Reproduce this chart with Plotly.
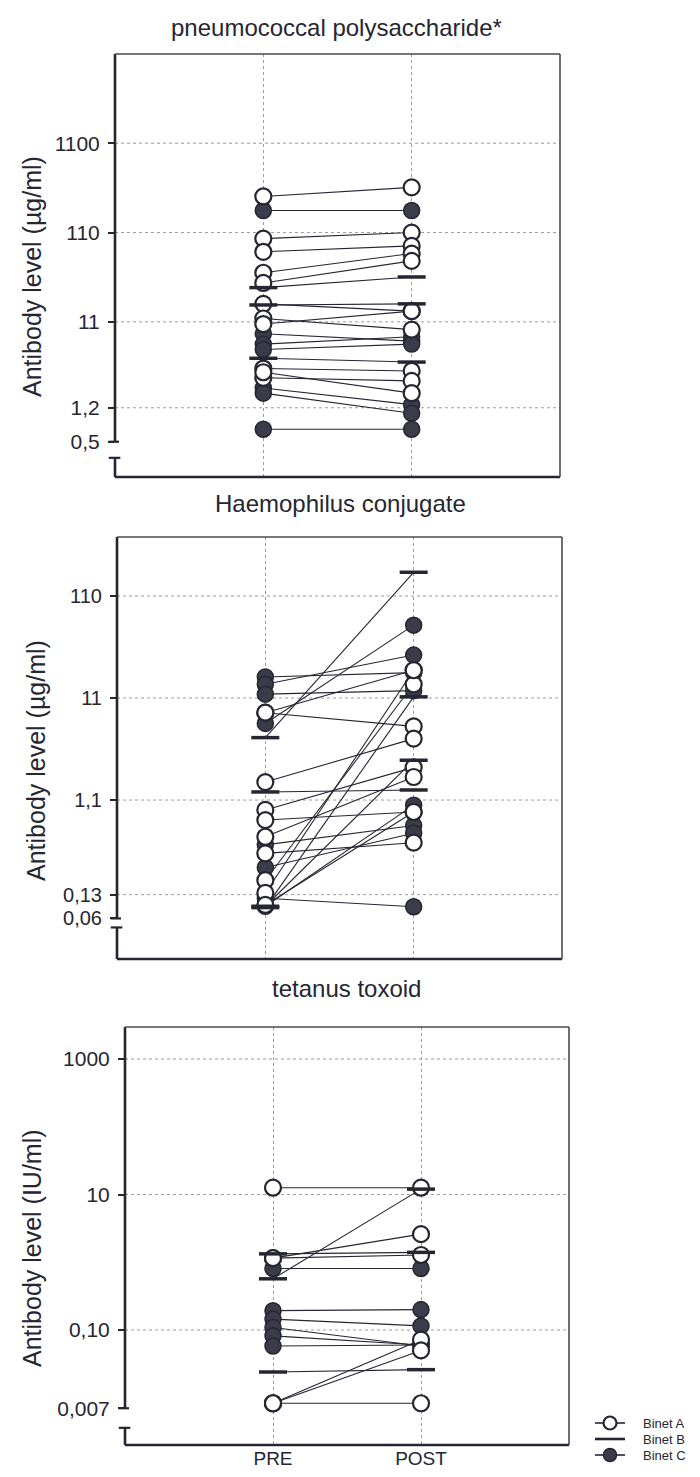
import numpy as np
import plotly.graph_objects as go

# ---------------- data ----------------
# Panel 1: pneumococcal polysaccharide (ug/ml)
pn_group = ["A", "C", "A", "A", "A", "A", "B", "B", "A", "A", "A", "C", "C", "C", "B", "A", "A", "A", "C", "C", "C"]
pn_pre = [279, 194, 94, 67, 39, 30, 26.6, 17, 17.5, 12, 10.4, 8.1, 6.2, 5.4, 4.3, 3.3, 2.6, 3.0, 2.0, 1.75, 0.69]
pn_post = [353, 194, 110, 78, 64, 53, 35, 17.5, 14.5, 9.0, 14.5, 6.7, 7.5, 6.2, 3.9, 3.1, 2.4, 1.75, 1.3, 1.04, 0.69]
pn_ticks = [0.5, 1.2, 11, 110, 1100]
pn_ticktext = ["0,5", "1,2", "11", "110", "1100"]

# Panel 2: Haemophilus conjugate (ug/ml)
hib_group = ["C", "C", "C", "A", "C", "B", "A", "A", "B", "A", "A", "A", "C", "A", "C", "A", "A", "B", "A", "C", "B", "C"]
hib_pre = [17.7, 15, 12, 7.9, 6.2, 4.5, 7.9, 1.65, 1.32, 0.88, 0.70, 0.48, 0.40, 0.33, 0.24, 0.18, 0.135, 0.097, 0.103, 0.12, 0.10, 0.10]
hib_post = [19.5, 29, 13, 20.6, 57, 188, 5.8, 4.4, 1.38, 2.3, 0.84, 1.85, 0.62, 0.42, 0.52, 15, 20.6, 11.3, 0.84, 0.099, 2.7, 0.98]
hib_ticks = [0.076, 0.13, 1.1, 11, 110]
hib_ticktext = ["0,06", "0,13", "1,1", "11", "110"]

# Panel 3: tetanus toxoid (IU/ml)
tt_group = ["A", "B", "A", "A", "B", "C", "C", "C", "C", "C", "C", "B", "A", "A", "A"]
tt_pre = [12.6, 0.57, 1.15, 1.15, 1.33, 0.81, 0.193, 0.145, 0.109, 0.082, 0.058, 0.024, 0.0083, 0.0083, 0.0083]
tt_post = [12.6, 12.0, 2.6, 1.28, 1.4, 0.81, 0.20, 0.115, 0.058, 0.06, 0.06, 0.026, 0.0083, 0.072, 0.05]
tt_ticks = [0.007, 0.10, 10, 1000]
tt_ticktext = ["0,007", "0,10", "10", "1000"]

x_labels = ["PRE", "POST"]
group_names = {"A": "Binet A", "B": "Binet B", "C": "Binet C"}

# ---------------- page geometry ----------------
# the page body has an 8px default margin, so the figure is made 8px smaller
# and window-pixel positions are converted to paper fractions
OFF = 8
W, H = 700 - OFF, 1477 - OFF


def px(X):
    return (X - OFF) / W


def py(Y):
    return 1 - (Y - OFF) / H


INK = "#262632"
FILL_C = "#3b3b4a"
GRID = "#9c9c9c"
FONT = "Liberation Sans, Arial, sans-serif"

panels = [
    dict(group=pn_group, pre=pn_pre, post=pn_post, ticks=pn_ticks, ticktext=pn_ticktext,
         grid=[1.2, 11, 110, 1100], brk=0.33, rng=[-0.696, 4.041], tfs=21,
         xdom=[px(115), px(560)], ydom=[py(477), py(54)],
         title="pneumococcal polysaccharide*", tx=336, ty=27,
         ytitle="Antibody level (\u00b5g/ml)", ytx=32, yty=277),
    dict(group=hib_group, pre=hib_pre, post=hib_post, ticks=hib_ticks, ticktext=hib_ticktext,
         grid=[0.13, 1.1, 11, 110], brk=0.062, rng=[-1.517, 2.620], tfs=20,
         xdom=[px(117), px(562)], ydom=[py(959), py(537)],
         title="Haemophilus conjugate", tx=340, ty=503,
         ytitle="Antibody level (\u00b5g/ml)", ytx=36, yty=761),
    dict(group=tt_group, pre=tt_pre, post=tt_post, ticks=tt_ticks, ticktext=tt_ticktext,
         grid=[0.10, 10, 1000], brk=0.0036, rng=[-2.697, 3.472], tfs=21,
         xdom=[px(125), px(569)], ydom=[py(1445), py(1027)],
         title="tetanus toxoid", tx=346, ty=988,
         ytitle="Antibody level (IU/ml)", ytx=32, yty=1248),
]

marker_style = {
    "A": dict(symbol="circle", size=16, color="white", line=dict(color=INK, width=2.2)),
    "B": dict(symbol="line-ew", size=20, color=INK, line=dict(color=INK, width=3.5)),
    "C": dict(symbol="circle", size=16, color=FILL_C, line=dict(color=INK, width=1.5)),
}

fig = go.Figure()
shapes = []
annotations = []


def frac(v, rng):
    return (np.log10(v) - rng[0]) / (rng[1] - rng[0])


for i, p in enumerate(panels, start=1):
    xa = "x" if i == 1 else f"x{i}"
    ya = "y" if i == 1 else f"y{i}"
    xd = "x domain" if i == 1 else f"x{i} domain"
    yd = "y domain" if i == 1 else f"y{i} domain"

    # connecting lines
    lx, ly = [], []
    for a, b in zip(p["pre"], p["post"]):
        lx += [1, 2, None]
        ly += [a, b, None]
    fig.add_trace(go.Scatter(x=lx, y=ly, mode="lines", xaxis=xa, yaxis=ya,
                             line=dict(color=INK, width=1.1), hoverinfo="skip", showlegend=False))
    # markers: C first, then A, then B on top
    for g in ["C", "A", "B"]:
        pre = [v for v, gg in zip(p["pre"], p["group"]) if gg == g]
        post = [v for v, gg in zip(p["post"], p["group"]) if gg == g]
        fig.add_trace(go.Scatter(x=[1] * len(pre) + [2] * len(post), y=pre + post,
                                 mode="markers", xaxis=xa, yaxis=ya, marker=marker_style[g],
                                 name=group_names[g], showlegend=False))

    xkey = "xaxis" if i == 1 else f"xaxis{i}"
    ykey = "yaxis" if i == 1 else f"yaxis{i}"
    fig.update_layout(**{
        xkey: dict(domain=p["xdom"], anchor=ya, range=[0, 3], tickvals=[1, 2], ticktext=x_labels,
                   showticklabels=(i == 3), ticks="", showgrid=True, gridcolor=GRID, gridwidth=1,
                   griddash="dot", zeroline=False, showline=False,
                   tickfont=dict(size=19, color=INK, family=FONT), fixedrange=True),
        ykey: dict(domain=p["ydom"], anchor=xa, type="log", range=p["rng"], tickvals=p["ticks"],
                   ticktext=p["ticktext"], showgrid=False, zeroline=False, showline=False,
                   ticks="outside", ticklen=6, tickwidth=2, tickcolor=INK, ticklabelstandoff=4,
                   tickfont=dict(size=p["tfs"], color=INK, family=FONT), fixedrange=True),
    })

    # horizontal dotted gridlines (not at the lowest, break tick)
    for g in p["grid"]:
        f = frac(g, p["rng"])
        shapes.append(dict(type="line", xref=xd, yref=yd, x0=0, x1=1, y0=f, y1=f,
                           line=dict(color=GRID, width=1, dash="dot"), layer="below"))
    # axes frame with the axis break
    ft = frac(p["ticks"][0], p["rng"])
    fb = frac(p["brk"], p["rng"])
    shapes += [
        dict(type="line", xref=xd, yref=yd, x0=0, x1=0, y0=ft, y1=1, line=dict(color=INK, width=2.6)),
        dict(type="line", xref=xd, yref=yd, x0=-0.014, x1=0.009, y0=ft, y1=ft, line=dict(color=INK, width=2.2)),
        dict(type="line", xref=xd, yref=yd, x0=-0.014, x1=0.012, y0=fb, y1=fb, line=dict(color=INK, width=2.2)),
        dict(type="line", xref=xd, yref=yd, x0=0, x1=0, y0=0, y1=fb, line=dict(color=INK, width=2.6)),
        dict(type="line", xref=xd, yref=yd, x0=0, x1=1, y0=0, y1=0, line=dict(color=INK, width=2.6)),
        dict(type="line", xref=xd, yref=yd, x0=0, x1=1, y0=1, y1=1, line=dict(color="#4a4a55", width=1.6)),
        dict(type="line", xref=xd, yref=yd, x0=1, x1=1, y0=0, y1=1, line=dict(color="#4a4a55", width=1.6)),
    ]
    annotations.append(dict(text=p["title"], xref="paper", yref="paper", x=px(p["tx"]),
                            y=py(p["ty"]), showarrow=False, xanchor="center", yanchor="middle",
                            font=dict(size=24, color=INK, family=FONT)))
    annotations.append(dict(text=p["ytitle"], xref="paper", yref="paper", x=px(p["ytx"]),
                            y=py(p["yty"]), showarrow=False, textangle=-90,
                            xanchor="center", yanchor="middle",
                            font=dict(size=25, color=INK, family=FONT)))

# ---------------- legend (own little axis) ----------------
leg_groups = ["A", "B", "C"]
leg_rows = [2, 1, 0]
for g, r in zip(leg_groups, leg_rows):
    fig.add_trace(go.Scatter(x=[0, 1], y=[r, r], mode="lines", xaxis="x4", yaxis="y4",
                             line=dict(color=INK, width=1.6 if g != "B" else 2.6),
                             hoverinfo="skip", showlegend=False))
    if g != "B":
        ms = dict(marker_style[g], size=13)
        fig.add_trace(go.Scatter(x=[0.5], y=[r], mode="markers", xaxis="x4", yaxis="y4",
                                 marker=ms, showlegend=False, hoverinfo="skip"))
    annotations.append(dict(text=group_names[g], xref="paper", yref="y4", x=px(641), y=r,
                            showarrow=False, xanchor="left", yanchor="middle",
                            font=dict(size=13, color=INK, family=FONT)))

fig.update_layout(
    xaxis4=dict(domain=[px(595), px(625)], anchor="y4", range=[0, 1], visible=False, fixedrange=True),
    yaxis4=dict(domain=[py(1463), py(1415)], anchor="x4", range=[-0.5, 2.5],
                visible=False, fixedrange=True),
)

fig.update_layout(
    width=W, height=H, margin=dict(l=0, r=0, t=0, b=0),
    paper_bgcolor="white", plot_bgcolor="white", showlegend=False,
    font=dict(family=FONT, color=INK),
    shapes=shapes, annotations=annotations,
)

fig.write_html("out.html")
